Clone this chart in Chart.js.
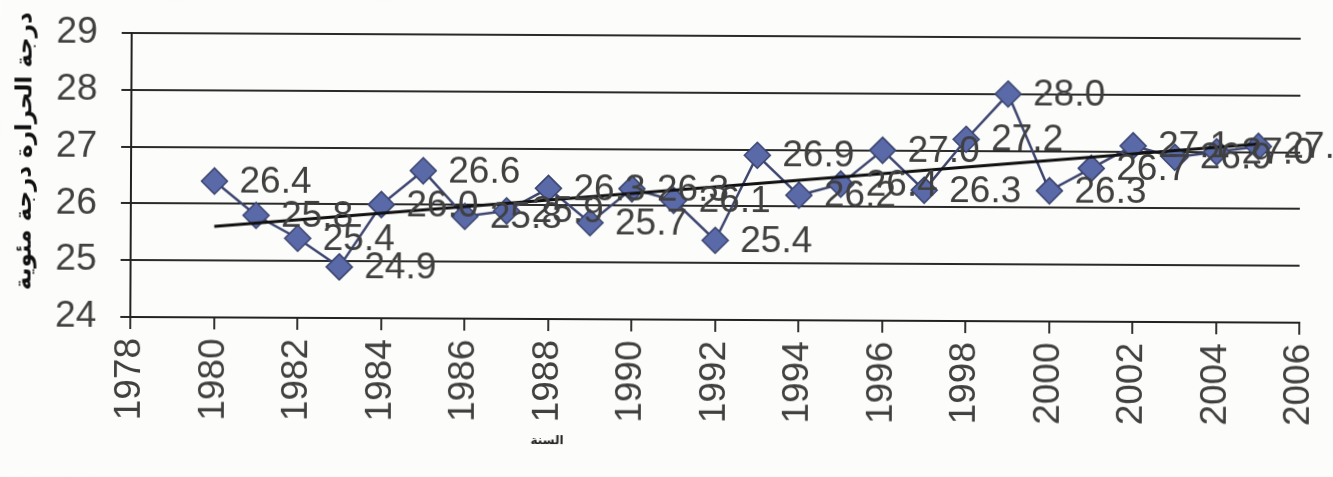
<!DOCTYPE html>
<html>
<head>
<meta charset="utf-8">
<script src="https://cdn.jsdelivr.net/npm/chart.js@4.4.1/dist/chart.umd.min.js"></script>
<style>
  html, body { margin: 0; padding: 0; background: #fcfcfa; overflow: hidden; }
  #wrap { width: 1333px; height: 477px; }
  /* the printed sheet sits very slightly askew */
  #c { transform: rotate(0.28deg); transform-origin: 131px 175px; }
</style>
</head>
<body>
<div id="wrap"><canvas id="c" width="1333" height="477"></canvas></div>
<script>
// Annual mean temperature (°C), 1980–2005
const years = [1980, 1981, 1982, 1983, 1984, 1985, 1986, 1987, 1988, 1989,
               1990, 1991, 1992, 1993, 1994, 1995, 1996, 1997, 1998, 1999,
               2000, 2001, 2002, 2003, 2004, 2005];
const temps = [26.4, 25.8, 25.4, 24.9, 26.0, 26.6, 25.8, 25.9, 26.3, 25.7,
               26.3, 26.1, 25.4, 26.9, 26.2, 26.4, 27.0, 26.3, 27.2, 28.0,
               26.3, 26.7, 27.1, 26.9, 27.0, 27.1];

// Axis ranges and tick steps
const xRange = [1978, 2006];
const xStep = 2;
const yRange = [24, 29];
const yStep = 1;

// Axis titles
const yTitle = 'درجة الحرارة درجة مئوية';
const xTitle = 'السنة';

// Least-squares linear trend over the series
function linearTrend(xs, ys) {
  const n = xs.length;
  const mx = xs.reduce((a, b) => a + b, 0) / n;
  const my = ys.reduce((a, b) => a + b, 0) / n;
  let sxy = 0, sxx = 0;
  for (let i = 0; i < n; i++) {
    sxy += (xs[i] - mx) * (ys[i] - my);
    sxx += (xs[i] - mx) * (xs[i] - mx);
  }
  const slope = sxy / sxx;
  const icpt = my - slope * mx;
  return [xs[0], xs[n - 1]].map(x => ({ x, y: icpt + slope * x }));
}

const seriesPoints = years.map((y, i) => ({ x: y, y: temps[i] }));
const trendPoints = linearTrend(years, temps);

const TEXT = '#404040';
const FONT = '"Liberation Sans", Arial, sans-serif';

// White page behind the chart
const paper = {
  id: 'paper',
  beforeDraw(chart) {
    const ctx = chart.ctx;
    ctx.save();
    ctx.fillStyle = '#fcfcfa';
    ctx.fillRect(0, 0, chart.width, chart.height);
    ctx.restore();
  }
};

// Value labels to the right of each marker
const valueLabels = {
  id: 'valueLabels',
  afterDatasetsDraw(chart) {
    const meta = chart.getDatasetMeta(0);
    const ctx = chart.ctx;
    ctx.save();
    ctx.font = '37px ' + FONT;
    ctx.fillStyle = TEXT;
    ctx.textAlign = 'left';
    ctx.textBaseline = 'middle';
    meta.data.forEach((pt, i) => {
      ctx.fillText(temps[i].toFixed(1), pt.x + 25, pt.y + 1);
    });
    ctx.restore();
  }
};

// Axis captions: vertical one at the left, small one under the year labels
const axisCaptions = {
  id: 'axisCaptions',
  afterDraw(chart) {
    const a = chart.chartArea;
    const ctx = chart.ctx;
    ctx.save();
    ctx.fillStyle = '#111';
    ctx.textAlign = 'center';
    ctx.textBaseline = 'middle';
    ctx.font = 'bold 23px "DejaVu Sans", sans-serif';
    ctx.translate(25, a.top + a.height * 0.418);
    ctx.rotate(-Math.PI / 2);
    ctx.fillText(yTitle, 0, 0);
    ctx.restore();

    ctx.save();
    ctx.font = 'bold 12px "DejaVu Sans", sans-serif';
    ctx.fillStyle = '#222';
    ctx.textAlign = 'center';
    ctx.textBaseline = 'middle';
    ctx.fillText(xTitle, a.left + a.width * 0.357, chart.height - 38);
    ctx.restore();
  }
};

new Chart(document.getElementById('c'), {
  type: 'line',
  data: {
    datasets: [
      {
        data: seriesPoints,
        borderColor: '#3e4670',
        borderWidth: 2.5,
        pointStyle: 'rectRot',
        pointRadius: 13,
        pointBackgroundColor: '#5a69a8',
        pointBorderColor: '#3a456e',
        pointBorderWidth: 1.5,
        tension: 0,
        fill: false,
        order: 1
      },
      {
        data: trendPoints,
        borderColor: '#111111',
        borderWidth: 3,
        pointRadius: 0,
        tension: 0,
        fill: false,
        order: 0
      }
    ]
  },
  options: {
    responsive: false,
    animation: false,
    events: [],
    layout: { padding: { top: 33, right: 33, left: 0, bottom: 0 } },
    plugins: { legend: { display: false }, tooltip: { enabled: false } },
    scales: {
      x: {
        type: 'linear',
        min: xRange[0],
        max: xRange[1],
        afterFit(s) { s.height = 160; s.paddingLeft = 0; s.paddingRight = 0; },
        border: { display: true, color: '#222', width: 2 },
        grid: { drawOnChartArea: false, drawTicks: true, tickLength: 12, color: '#333', lineWidth: 2 },
        ticks: {
          stepSize: xStep,
          minRotation: 90,
          maxRotation: 90,
          padding: 9,
          color: TEXT,
          font: { family: FONT, size: 37 },
          callback: v => String(v)
        }
      },
      y: {
        min: yRange[0],
        max: yRange[1],
        afterFit(s) { s.width = 131; s.paddingTop = 0; s.paddingBottom = 0; },
        border: { display: true, color: '#222', width: 2 },
        grid: { color: '#2a2a2a', lineWidth: 2, drawTicks: true, tickLength: 10 },
        ticks: {
          stepSize: yStep,
          padding: 24,
          color: TEXT,
          font: { family: FONT, size: 37 },
          callback: v => String(v)
        }
      }
    }
  },
  plugins: [paper, valueLabels, axisCaptions]
});
</script>
</body>
</html>
